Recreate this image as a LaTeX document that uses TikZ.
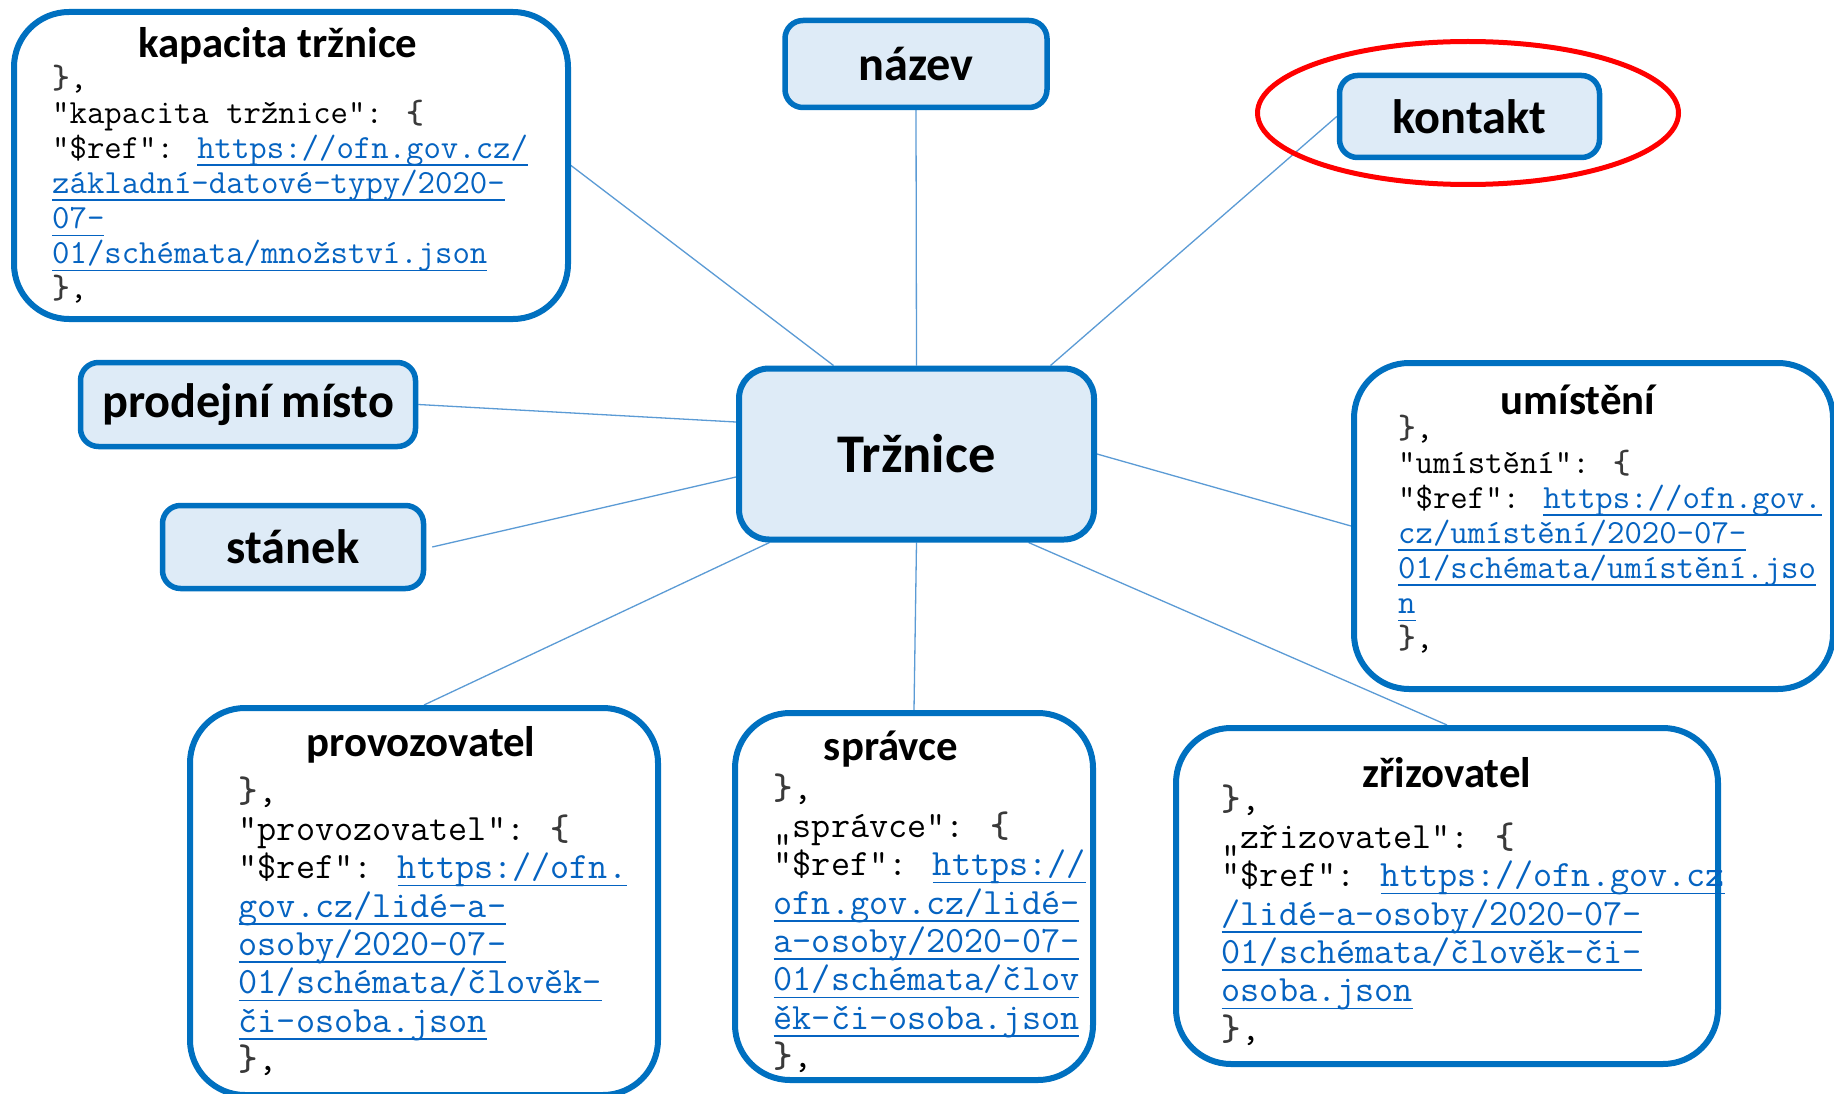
\documentclass[tikz,border=0pt]{standalone}
\usepackage{fontspec}
\newfontfamily\titlef{Carlito}
\usetikzlibrary{calc}
\definecolor{bord}{HTML}{0070C0}
\definecolor{lightb}{HTML}{DEEBF7}
\definecolor{connc}{HTML}{5B9BD5}
\definecolor{linkc}{HTML}{0563C1}
\definecolor{bracec}{HTML}{3A3A3A}
\newlength\lnkw
\newcommand\lnk[1]{\settowidth\lnkw{#1}\rlap{\color{linkc}\rule[-7.5pt]{\lnkw}{1.6pt}}{\color{linkc}#1}}
\newcommand\brc{\strut{\color{bracec}\bfseries\}},}
\newcommand\obr{{\color{bracec}\bfseries\{}}
\pgfdeclarelayer{back}
\pgfdeclarelayer{bg}
\pgfsetlayers{back,bg,main}
\tikzset{
  bigbox/.style={draw=bord, line width=6pt, rounded corners=55pt, fill=white, inner sep=0pt},
  smallbox/.style={draw=bord, line width=5.5pt, rounded corners=18pt, fill=lightb, inner sep=0pt,
    font=\titlef\bfseries\fontsize{48.3}{58}\selectfont},
  titletext/.style={font=\titlef\bfseries\fontsize{42.8}{52}\selectfont, anchor=base, inner sep=0pt},
  codea/.style={font=\ttfamily\fontsize{33.8}{35.1}\selectfont, align=left, anchor=north west, inner sep=0pt},
  codeb/.style={font=\ttfamily\fontsize{37.1}{38.3}\selectfont, align=left, anchor=north west, inner sep=0pt},
  connl/.style={draw=connc, line width=1.3pt},
}
\begin{document}
\begin{tikzpicture}[x=1pt,y=-1pt]
\begin{pgfonlayer}{back}
\fill[white] (0,0) rectangle (1834,1094);
\end{pgfonlayer}
\useasboundingbox (0,0) rectangle (1834,1094);

% boxes
\node[bigbox, minimum width=554pt, minimum height=307pt] (kap) at (291,165.5) {};
\node[smallbox, minimum width=262pt, minimum height=87pt] (naz) at (916,64) {název};
\node[smallbox, minimum width=260pt, minimum height=82pt] (kon) at (1469.5,116.5) {kontakt};
\node[smallbox, rounded corners=30pt, line width=6pt, minimum width=355pt, minimum height=171pt,
  font=\titlef\bfseries\fontsize{54.5}{64}\selectfont] (trz) at (916.5,454) {Tržnice};
\node[smallbox, minimum width=335pt, minimum height=84pt] (prod) at (248,404.5) {prodejní místo};
\node[smallbox, minimum width=261pt, minimum height=83pt] (sta) at (293,547) {stánek};
\node[bigbox, minimum width=479pt, minimum height=326pt] (umi) at (1593.5,526) {};
\node[bigbox, minimum width=468pt, minimum height=387pt] (prov) at (424,901.5) {};
\node[bigbox, minimum width=358pt, minimum height=367pt] (spr) at (914,896.5) {};
\node[bigbox, minimum width=542pt, minimum height=336pt] (zri) at (1447,896) {};

% red highlight
\draw[red, line width=5pt] (1468,113) ellipse [x radius=210.5, y radius=71.5];

% titles
\node[titletext] (kapt) at (278,58) {kapacita tržnice};
\node[titletext] (umit) at (1578,414) {umístění};
\node[titletext] (provt) at (421,756) {provozovatel};
\node[titletext] (sprt) at (891,760) {správce};
\node[titletext] (zrit) at (1447,787) {zřizovatel};

% code
\node[codea] (kapc) at (52,63.5) {\brc\\
"kapacita tržnice": \obr\\
"\$ref": \lnk{https://ofn.gov.cz/}\\
\lnk{základní-datové-typy/2020-}\\
\lnk{07-}\\
\lnk{01/schémata/množství.json}\\
\brc};
\node[codea] (umic) at (1398,413.4) {\brc\\
"umístění": \obr\\
"\$ref": \lnk{https://ofn.gov.}\\
\lnk{cz/umístění/2020-07-}\\
\lnk{01/schémata/umístění.jso}\\
\lnk{n}\\
\brc};
\node[codeb] (provc) at (238.5,775.2) {\brc\\
"provozovatel": \obr\\
"\$ref": \lnk{https://ofn.}\\
\lnk{gov.cz/lidé-a-}\\
\lnk{osoby/2020-07-}\\
\lnk{01/schémata/člověk-}\\
\lnk{či-osoba.json}\\
\brc};
\node[codeb] (sprc) at (773.5,772.2) {\brc\\
„správce": \obr\\
"\$ref": \lnk{https://}\\
\lnk{ofn.gov.cz/lidé-}\\
\lnk{a-osoby/2020-07-}\\
\lnk{01/schémata/člov}\\
\lnk{ěk-či-osoba.json}\\
\brc};
\node[codeb] (zric) at (1221.5,783.2) {\brc\\
„zřizovatel": \obr\\
"\$ref": \lnk{https://ofn.gov.cz}\\
\lnk{/lidé-a-osoby/2020-07-}\\
\lnk{01/schémata/člověk-či-}\\
\lnk{osoba.json}\\
\brc};

% connectors
\begin{pgfonlayer}{bg}
\draw[connl] (kap.east) -- ($(trz.north)+(-83,0)$);
\draw[connl] (naz.south) -- (trz.north);
\draw[connl] (kon.west) -- ($(trz.north)+(134,0)$);
\draw[connl] (prod.east) -- ($(trz.west)+(0,-32)$);
\draw[connl] ($(sta.east)+(6,0)$) -- ($(trz.west)+(0,23)$);
\draw[connl] (trz.east) -- (umi.west);
\draw[connl] ($(trz.south)+(-147,0)$) -- (prov.north);
\draw[connl] (trz.south) -- (spr.north);
\draw[connl] ($(trz.south)+(112,0)$) -- (zri.north);
\end{pgfonlayer}
\end{tikzpicture}
\end{document}
